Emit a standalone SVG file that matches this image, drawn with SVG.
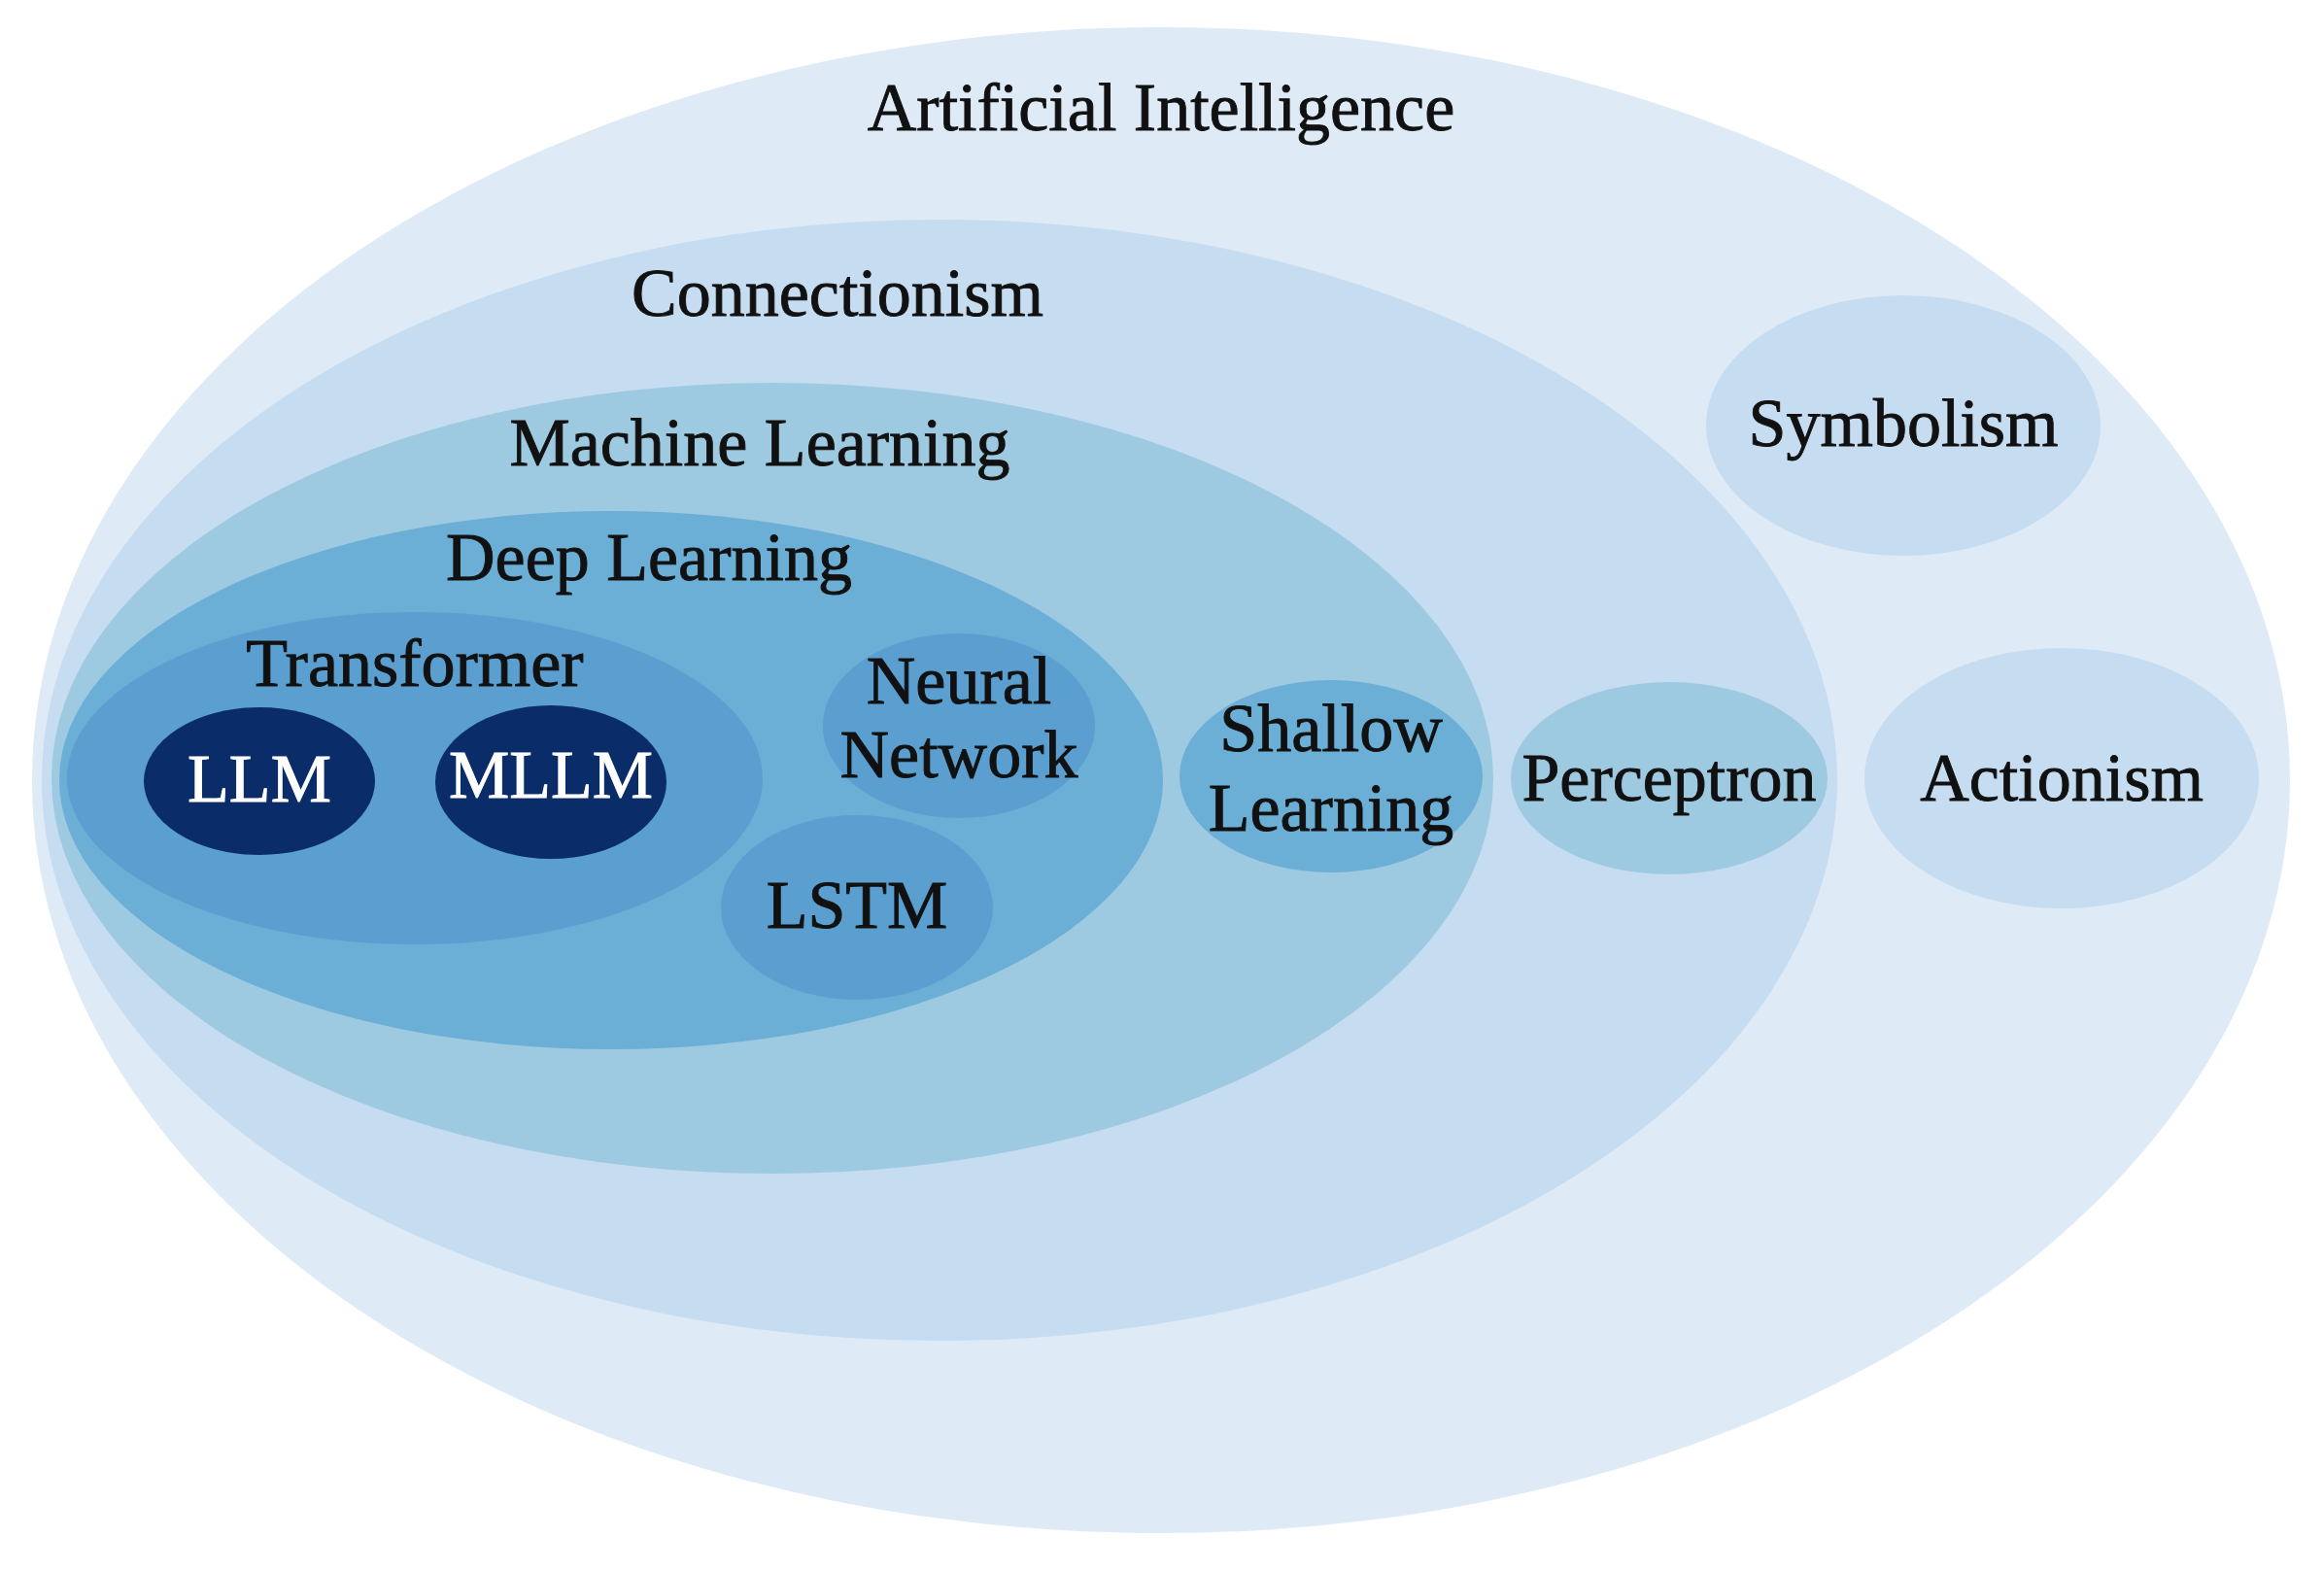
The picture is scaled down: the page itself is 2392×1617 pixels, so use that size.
<svg xmlns="http://www.w3.org/2000/svg" width="2392" height="1617" viewBox="0 0 2392 1617">
<style>
text{font-family:"Liberation Serif","Times New Roman",serif;font-size:70px;fill:#111;stroke:#111;stroke-width:0.9px;text-anchor:middle}
text.w{fill:#fff;stroke:#fff}
.c0{fill:#deebf7}.c1{fill:#c6dcf0}.c2{fill:#9ecae1}.c3{fill:#6baed6}.c4{fill:#5a9fcf}.c5{fill:#0a2d6a}
</style>
<rect width="2392" height="1617" fill="#fff"/>
<g id="ai"><ellipse class="c0" cx="1195" cy="803" rx="1162" ry="775"/><text x="1195" y="134">Artificial Intelligence</text></g>
<g id="connectionism"><ellipse class="c1" cx="967" cy="803" rx="924" ry="577"/><text x="862" y="325">Connectionism</text></g>
<g id="symbolism"><ellipse class="c1" cx="1959" cy="438" rx="203" ry="134"/><text x="1959" y="459">Symbolism</text></g>
<g id="actionism"><ellipse class="c1" cx="2122" cy="801" rx="203" ry="134"/><text x="2122" y="824">Actionism</text></g>
<g id="ml"><ellipse class="c2" cx="795" cy="801" rx="742" ry="407"/><text x="782" y="479">Machine Learning</text></g>
<g id="perceptron"><ellipse class="c2" cx="1718" cy="801" rx="163" ry="99"/><text x="1718" y="824">Perceptron</text></g>
<g id="dl"><ellipse class="c3" cx="629" cy="803" rx="568" ry="277"/><text x="668" y="597">Deep Learning</text></g>
<g id="shallow"><ellipse class="c3" cx="1370" cy="799" rx="156" ry="99"/><text x="1370" y="773">Shallow</text><text x="1370" y="855">Learning</text></g>
<g id="transformer"><ellipse class="c4" cx="427" cy="801" rx="358" ry="171"/><text x="427" y="706">Transformer</text></g>
<g id="nn"><ellipse class="c4" cx="987" cy="747" rx="140" ry="95"/><text x="987" y="724">Neural</text><text x="987" y="800">Network</text></g>
<g id="lstm"><ellipse class="c4" cx="882" cy="934" rx="140" ry="95"/><text x="882" y="955">LSTM</text></g>
<g id="llm"><ellipse class="c5" cx="267" cy="804" rx="119" ry="76"/><text class="w" x="267" y="825">LLM</text></g>
<g id="mllm"><ellipse class="c5" cx="567" cy="805" rx="119" ry="79"/><text class="w" x="567" y="821">MLLM</text></g>
<g id="connectors"></g>
</svg>
